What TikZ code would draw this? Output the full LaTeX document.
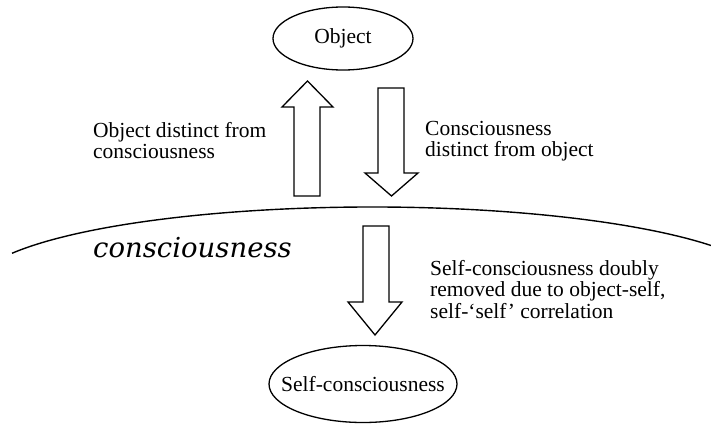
\documentclass[tikz,border=0pt]{standalone}
\usepackage{fontspec}
\setmainfont{Liberation Serif}
\newfontfamily\labelitfont{DejaVu Serif}
\usetikzlibrary{shapes.geometric, positioning}
\tikzset{
  bubble/.style={line width=1.3pt},
  blockarrow/.style={draw, line width=1.3pt, line join=miter},
  note/.style={align=left, anchor=north west, inner sep=0pt}
}

\begin{document}
\begin{tikzpicture}[x=1pt, y=-1pt, font=\fontsize{21.5}{21.5}\selectfont]
  \useasboundingbox (0,0) rectangle (711,423);
  % top and bottom bubbles
  \node[inner sep=0pt] (object) at (343,38.5) {Object};
  \draw[bubble] (object.center) ellipse[x radius=70, y radius=31.5];
  \node[inner sep=0pt] (selfc) at (363,384) {Self-consciousness};
  \draw[bubble] (selfc.center) ellipse[x radius=94, y radius=38.5];
  % horizon of consciousness
  \draw[line width=1.4pt] (372,289) ++(205.84:400 and 82) coordinate (hleft)
    arc[start angle=205.84, end angle=327.94, x radius=400, y radius=82] coordinate (hright);
  \node[anchor=base west, inner sep=0pt, font=\labelitfont\itshape\fontsize{27.5}{27.5}\selectfont] (cons) at (93,257) {consciousness};
  % block arrows
  \draw[blockarrow] (294,196) -- (294,107) -- (282,107) -- (307.5,81) -- (333,107) -- (320,107) -- (320,196) -- cycle;
  \draw[blockarrow] (378,88) -- (378,173) -- (365,173) -- (391.5,196) -- (418,173) -- (404,173) -- (404,88) -- cycle;
  \draw[blockarrow] (363,226) -- (363,302) -- (348,302) -- (375,335) -- (402,302) -- (389,302) -- (389,226) -- cycle;
  % labels
  \node[note] (objdist) at (93,122) {Object distinct from\\consciousness};
  \node[note] (consdist) at (425,121) {Consciousness\\distinct from object};
  \node[note] (removed) at (430,260) {Self-consciousness doubly\\removed due to object-self,\\self-`self' correlation};
\end{tikzpicture}
\end{document}
